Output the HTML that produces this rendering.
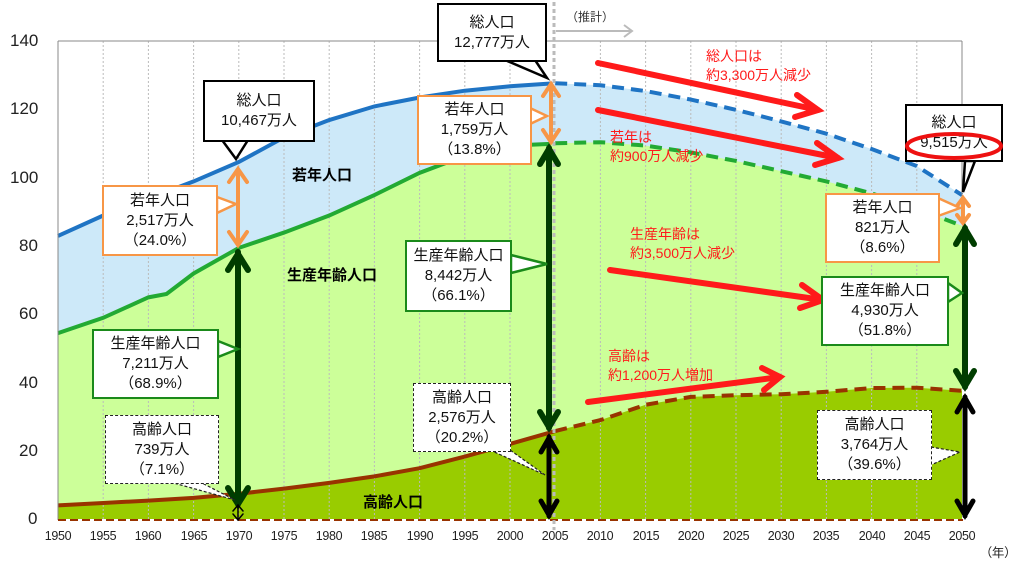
<!DOCTYPE html>
<html><head><meta charset="utf-8"><style>
body{margin:0;width:1024px;height:558px;background:#fff;position:relative;overflow:hidden;font-family:"Liberation Sans","Noto Sans CJK JP",sans-serif;}
.b{position:absolute;background:#fff;text-align:center;font-size:15px;line-height:20px;color:#111;box-sizing:border-box;display:flex;flex-direction:column;justify-content:center;}
.k{border:2.5px solid #000}
.o{border:2.5px solid #f79646}
.g{border:2.5px solid #1a8a1a}
.d{border:1.5px dashed #222}
.t{position:absolute;font-size:14px;line-height:19px;}
.r{color:#ff1a1a}
.ax{position:absolute;font-size:17px;color:#222}
.xl{position:absolute;font-size:12.5px;color:#222;top:529px;width:40px;text-align:center;letter-spacing:-0.3px}
</style></head><body>
<svg width="1024" height="558" style="position:absolute;left:0;top:0">
<g transform="translate(58,519) scale(9.04,-3.41)">
<polygon fill="#cde9f9" points="0,0 0,83 5,89 10,94 15,99 20,104.7 25,111.9 30,117 35,121 40,123.6 45,125.6 50,126.9 54.5,127.7 55,127.8 60,127.2 65,125.5 70,123 75,120 80,116.6 85,113 90,108.5 95,103.5 100,95 100,0"/>
<polygon fill="#ccff99" points="0,0 0,54.5 5,59 10,65 12,66 15,72 20,79.5 25,84 30,89 35,95 40,101.5 45,106.5 50,109.5 54.5,110 55,110.2 60,110.5 65,109.5 70,107.5 75,105 80,102 85,99 90,95.5 95,91 100,86 100,0"/>
<polygon fill="#99cc00" points="0,0 0,4 5,4.7 10,5.4 15,6.2 20,7.4 25,8.9 30,10.6 35,12.5 40,14.9 45,18.3 50,22 55,25.8 60,29 65,33.5 70,35.8 75,36.3 80,36.6 85,37.3 90,38.4 95,38.5 100,37.6 100,0"/>
<g stroke="#bbb" stroke-width="1" stroke-dasharray="2,2" vector-effect="non-scaling-stroke">
<line x1="5" y1="0" x2="5" y2="140" vector-effect="non-scaling-stroke"/><line x1="10" y1="0" x2="10" y2="140" vector-effect="non-scaling-stroke"/><line x1="15" y1="0" x2="15" y2="140" vector-effect="non-scaling-stroke"/><line x1="20" y1="0" x2="20" y2="140" vector-effect="non-scaling-stroke"/><line x1="25" y1="0" x2="25" y2="140" vector-effect="non-scaling-stroke"/><line x1="30" y1="0" x2="30" y2="140" vector-effect="non-scaling-stroke"/><line x1="35" y1="0" x2="35" y2="140" vector-effect="non-scaling-stroke"/><line x1="40" y1="0" x2="40" y2="140" vector-effect="non-scaling-stroke"/><line x1="45" y1="0" x2="45" y2="140" vector-effect="non-scaling-stroke"/><line x1="50" y1="0" x2="50" y2="140" vector-effect="non-scaling-stroke"/><line x1="60" y1="0" x2="60" y2="140" vector-effect="non-scaling-stroke"/><line x1="65" y1="0" x2="65" y2="140" vector-effect="non-scaling-stroke"/><line x1="70" y1="0" x2="70" y2="140" vector-effect="non-scaling-stroke"/><line x1="75" y1="0" x2="75" y2="140" vector-effect="non-scaling-stroke"/><line x1="80" y1="0" x2="80" y2="140" vector-effect="non-scaling-stroke"/><line x1="85" y1="0" x2="85" y2="140" vector-effect="non-scaling-stroke"/><line x1="90" y1="0" x2="90" y2="140" vector-effect="non-scaling-stroke"/><line x1="95" y1="0" x2="95" y2="140" vector-effect="non-scaling-stroke"/>
</g>
<g fill="none" stroke-width="4" vector-effect="non-scaling-stroke">
<polyline stroke="#1f74c4" vector-effect="non-scaling-stroke" points="0,83 5,89 10,94 15,99 20,104.7 25,111.9 30,117 35,121 40,123.6 45,125.6 50,126.9 54.5,127.7"/>
<polyline stroke="#1f74c4" stroke-dasharray="12,7" vector-effect="non-scaling-stroke" points="55,127.8 60,127.2 65,125.5 70,123 75,120 80,116.6 85,113 90,108.5 95,103.5 100,95"/>
<polyline stroke="#22aa33" vector-effect="non-scaling-stroke" points="0,54.5 5,59 10,65 12,66 15,72 20,79.5 25,84 30,89 35,95 40,101.5 45,106.5 50,109.5 54.5,110"/>
<polyline stroke="#22aa33" stroke-dasharray="12,7" vector-effect="non-scaling-stroke" points="55,110.2 60,110.5 65,109.5 70,107.5 75,105 80,102 85,99 90,95.5 95,91 100,86"/>
<polyline stroke="#993300" vector-effect="non-scaling-stroke" points="0,4 5,4.7 10,5.4 15,6.2 20,7.4 25,8.9 30,10.6 35,12.5 40,14.9 45,18.3 50,22 55,25.8"/>
<polyline stroke="#993300" stroke-dasharray="12,7" vector-effect="non-scaling-stroke" points="55,25.8 60,29 65,33.5 70,35.8 75,36.3 80,36.6 85,37.3 90,38.4 95,38.5 100,37.6"/>
</g>
</g>
<line x1="58" y1="41" x2="962" y2="41" stroke="#888" stroke-width="1"/>
<line x1="962" y1="41" x2="962" y2="200" stroke="#888" stroke-width="1"/>
<line x1="58" y1="41" x2="58" y2="520" stroke="#888" stroke-width="1"/>
<line x1="58" y1="520" x2="963" y2="520" stroke="#993300" stroke-width="2" stroke-dasharray="8,4"/>
<line x1="554" y1="2" x2="554" y2="530" stroke="#bbb" stroke-width="3" stroke-dasharray="4,3"/>
<polyline points="556,31 632,31" stroke="#bbb" stroke-width="2" fill="none"/>
<polyline points="624,25 632,31 624,37" stroke="#bbb" stroke-width="2" fill="none"/>
<g stroke="#ff1a1a" stroke-width="6" fill="none" stroke-linecap="round">
<line x1="598" y1="63" x2="818" y2="110"/><polyline points="797,95 818,110 795,117"/>
<line x1="598" y1="110" x2="838" y2="158"/><polyline points="817,143 838,158 815,165"/>
<line x1="610" y1="270" x2="823" y2="300"/><polyline points="802,285 823,300 800,308"/>
<line x1="588" y1="402" x2="780" y2="377"/><polyline points="762,368 780,377 764,390"/>
</g>
<g fill="none" stroke-linecap="round">
<g stroke="#f79646" stroke-width="4">
<line x1="238" y1="170" x2="238" y2="244"/><polyline points="229,182 238,169 247,182"/><polyline points="229,232 238,245 247,232"/>
<line x1="551" y1="84" x2="551" y2="142"/><polyline points="543,96 551,84 559,96"/><polyline points="543,130 551,142 559,130"/>
<line x1="963" y1="199" x2="963" y2="222"/><polyline points="957,206 963,198 969,206"/><polyline points="957,215 963,223 969,215"/>
</g>
<g stroke="#003d00" stroke-width="6">
<line x1="238" y1="252" x2="238" y2="504"/><polyline points="228,270 238,254 248,270"/><polyline points="228,488 238,504 248,488"/>
<line x1="549" y1="148" x2="549" y2="428"/><polyline points="540,164 549,149 558,164"/><polyline points="540,412 549,427 558,412"/>
<line x1="965" y1="228" x2="965" y2="387"/><polyline points="956,244 965,229 974,244"/><polyline points="956,371 965,386 974,371"/>
</g>
<g stroke="#000" stroke-width="5">
<line x1="549" y1="437" x2="549" y2="516"/><polyline points="541,452 549,438 557,452"/><polyline points="541,501 549,515 557,501"/>
<line x1="965" y1="397" x2="965" y2="516"/><polyline points="957,412 965,398 973,412"/><polyline points="957,501 965,515 973,501"/>
<g stroke-width="1.5"><line x1="238" y1="505" x2="238" y2="520"/><polyline points="233,511 238,505 243,511"/><polyline points="233,514 238,520 243,514"/></g>
</g>
</g>
<polygon points="222,140 236,159 248,140" fill="#fff" stroke="#000" stroke-width="2.5"/>
<polygon points="217,197 236,204 217,213" fill="#fff" stroke="#f79646" stroke-width="2.5"/>
<polygon points="218,341 238,349 218,357" fill="#fff" stroke="#1a8a1a" stroke-width="2.5"/>
<polygon points="170,482 235,500 200,482" fill="#fff" stroke="#222" stroke-width="1.2" stroke-dasharray="3,2"/>
<polygon points="505,60 547,78 535,60" fill="#fff" stroke="#000" stroke-width="2.5"/>
<polygon points="530,108 547,116 530,124" fill="#fff" stroke="#f79646" stroke-width="2.5"/>
<polygon points="511,255 547,264 511,273" fill="#fff" stroke="#1a8a1a" stroke-width="2.5"/>
<polygon points="490,450 545,475 510,450" fill="#fff" stroke="#222" stroke-width="1.2" stroke-dasharray="3,2"/>
<polygon points="965,161 963,192 975,161" fill="#fff" stroke="#000" stroke-width="2.5"/>
<polygon points="938,198 960,208 938,216" fill="#fff" stroke="#f79646" stroke-width="2.5"/>
<polygon points="948,283 962,293 948,302" fill="#fff" stroke="#1a8a1a" stroke-width="2.5"/>
<polygon points="931,447 960,452 931,465" fill="#fff" stroke="#222" stroke-width="1.2" stroke-dasharray="3,2"/>
</svg>

<div class="ax" style="left:10px;top:31px">140</div>
<div class="ax" style="left:10px;top:99px">120</div>
<div class="ax" style="left:10px;top:168px">100</div>
<div class="ax" style="left:19px;top:236px">80</div>
<div class="ax" style="left:19px;top:304px">60</div>
<div class="ax" style="left:19px;top:373px">40</div>
<div class="ax" style="left:19px;top:441px">20</div>
<div class="ax" style="left:28px;top:509px">0</div>

<div class="xl" style="left:38px">1950</div><div class="xl" style="left:83px">1955</div><div class="xl" style="left:128px">1960</div><div class="xl" style="left:174px">1965</div><div class="xl" style="left:219px">1970</div><div class="xl" style="left:264px">1975</div><div class="xl" style="left:309px">1980</div><div class="xl" style="left:354px">1985</div><div class="xl" style="left:400px">1990</div><div class="xl" style="left:445px">1995</div><div class="xl" style="left:490px">2000</div><div class="xl" style="left:535px">2005</div><div class="xl" style="left:580px">2010</div><div class="xl" style="left:626px">2015</div><div class="xl" style="left:671px">2020</div><div class="xl" style="left:716px">2025</div><div class="xl" style="left:761px">2030</div><div class="xl" style="left:806px">2035</div><div class="xl" style="left:852px">2040</div><div class="xl" style="left:897px">2045</div><div class="xl" style="left:942px">2050</div>
<div class="xl" style="left:978px;top:542px">（年）</div>

<div class="t" style="left:566px;top:8px;font-size:12px;color:#333">（推計）</div>

<div class="t" style="left:292px;top:166px;font-weight:bold;font-size:15px">若年人口</div>
<div class="t" style="left:287px;top:266px;font-weight:bold;font-size:15px">生産年齢人口</div>
<div class="t" style="left:363px;top:493px;font-weight:bold;font-size:15px">高齢人口</div>

<div class="t r" style="left:706px;top:47px">総人口は<br>約3,300万人減少</div>
<div class="t r" style="left:610px;top:128px">若年は<br>約900万人減少</div>
<div class="t r" style="left:630px;top:225px">生産年齢は<br>約3,500万人減少</div>
<div class="t r" style="left:608px;top:347px">高齢は<br>約1,200万人増加</div>

<div class="b k" style="left:203px;top:80px;width:112px;height:62px">総人口<br>10,467万人</div>
<div class="b o" style="left:102px;top:185px;width:116px;height:71px">若年人口<br>2,517万人<br>（24.0%）</div>
<div class="b g" style="left:92px;top:329px;width:127px;height:70px">生産年齢人口<br>7,211万人<br>（68.9%）</div>
<div class="b d" style="left:105px;top:415px;width:114px;height:69px">高齢人口<br>739万人<br>（7.1%）</div>

<div class="b k" style="left:437px;top:3px;width:110px;height:59px">総人口<br>12,777万人</div>
<div class="b o" style="left:417px;top:95px;width:115px;height:70px">若年人口<br>1,759万人<br>（13.8%）</div>
<div class="b g" style="left:405px;top:240px;width:107px;height:72px">生産年齢人口<br>8,442万人<br>（66.1%）</div>
<div class="b d" style="left:413px;top:383px;width:98px;height:69px">高齢人口<br>2,576万人<br>（20.2%）</div>

<div class="b k" style="left:905px;top:104px;width:98px;height:58px">総人口<br>9,515万人</div>
<svg width="1024" height="558" style="position:absolute;left:0;top:0"><ellipse cx="954" cy="146" rx="47" ry="12" fill="none" stroke="#ee1111" stroke-width="4"/></svg>
<div class="b o" style="left:825px;top:193px;width:115px;height:70px">若年人口<br>821万人<br>（8.6%）</div>
<div class="b g" style="left:821px;top:276px;width:128px;height:70px">生産年齢人口<br>4,930万人<br>（51.8%）</div>
<div class="b d" style="left:817px;top:410px;width:115px;height:70px">高齢人口<br>3,764万人<br>（39.6%）</div>
</body></html>
